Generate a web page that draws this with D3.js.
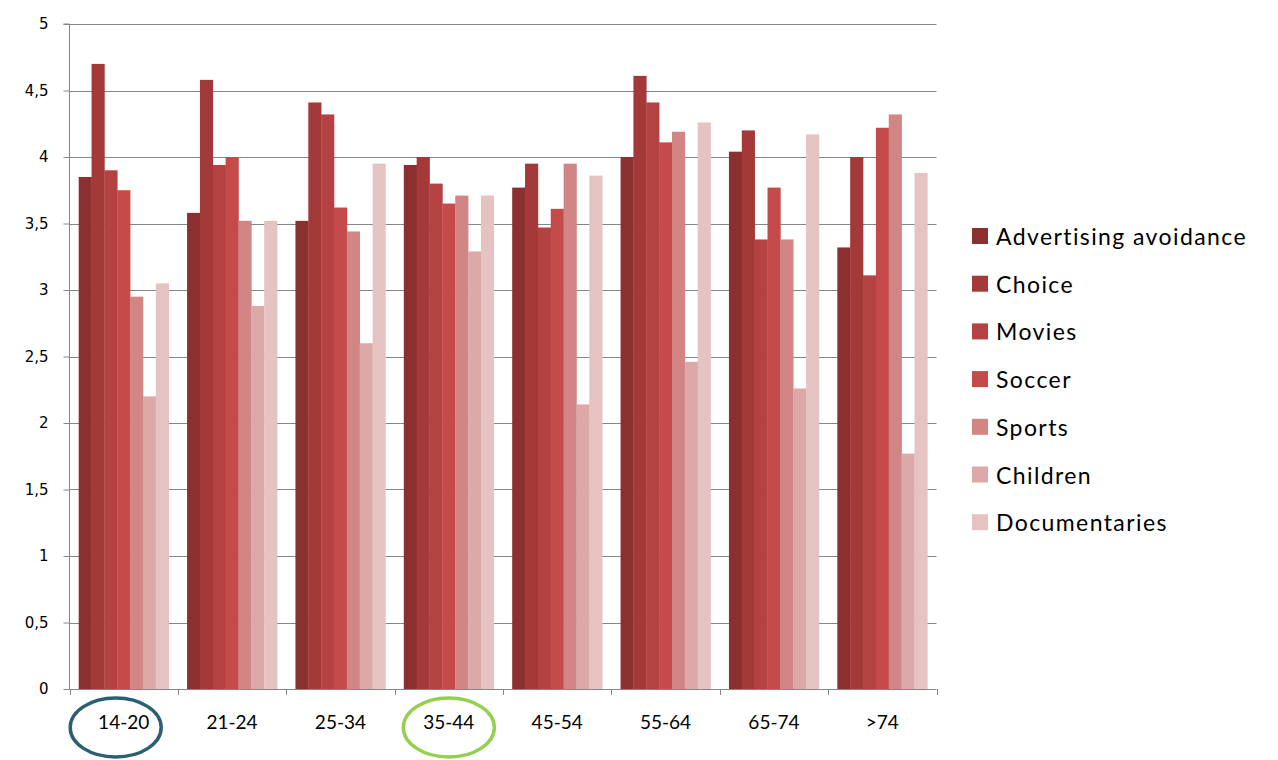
<!DOCTYPE html>
<html><head><meta charset="utf-8">
<script src="https://cdn.jsdelivr.net/npm/d3@7"></script>
<style>body{margin:0;background:#fff}svg{display:block}</style>
</head><body>
<svg id="c" width="1278" height="760"></svg>
<script>
const categories = ["14-20","21-24","25-34","35-44","45-54","55-64","65-74",">74"];
const seriesNames = ["Advertising avoidance","Choice","Movies","Soccer","Sports","Children","Documentaries"];
const seriesColors = ["#8C2F31","#A33939","#B54242","#C44B4A","#D18584","#DCA8A8","#E5C3C3"];
const advertisingAvoidance = [3.85,3.58,3.52,3.94,3.77,4.00,4.04,3.32];
const choice              = [4.70,4.58,4.41,4.00,3.95,4.61,4.20,4.00];
const movies              = [3.90,3.94,4.32,3.80,3.47,4.41,3.38,3.11];
const soccer              = [3.75,4.00,3.62,3.65,3.61,4.11,3.77,4.22];
const sports              = [2.95,3.52,3.44,3.71,3.95,4.19,3.38,4.32];
const children            = [2.20,2.88,2.60,3.29,2.14,2.46,2.26,1.77];
const documentaries       = [3.05,3.52,3.95,3.71,3.86,4.26,4.17,3.88];
const yTicks = [0,0.5,1,1.5,2,2.5,3,3.5,4,4.5,5];
const yTickLabels = ["0","0,5","1","1,5","2","2,5","3","3,5","4","4,5","5"];
const highlighted = [{cat:"14-20", color:"#2A6072", dx:-8},{cat:"35-44", color:"#92D050", dx:0}];

const series = [advertisingAvoidance,choice,movies,soccer,sports,children,documentaries];
const svg = d3.select("#c");
const L=69.5, R=936.5, T=24, B=689;
const x0 = d3.scaleBand().domain(categories).range([L,R]).padding(0);
const x1 = d3.scaleBand().domain(d3.range(series.length)).range([0,x0.bandwidth()]).paddingInner(0).paddingOuter(0.715);
const y = d3.scaleLinear().domain([0,5]).range([B,T]);

// gridlines
svg.append("g").selectAll("line").data(yTicks.filter(d=>d>0)).join("line")
  .attr("x1",L).attr("x2",R).attr("y1",d=>Math.round(y(d))+0.5).attr("y2",d=>Math.round(y(d))+0.5)
  .attr("stroke","#868686").attr("stroke-width",1);

// bars
const g = svg.append("g");
categories.forEach((c,ci)=>{
  series.forEach((s,si)=>{
    g.append("rect").attr("x",x0(c)+x1(si)).attr("width",x1.bandwidth()+0.3)
     .attr("y",y(s[ci])).attr("height",B-y(s[ci])).attr("fill",seriesColors[si]);
  });
});

// y axis
const yAxis = d3.axisLeft(y).tickValues(yTicks).tickFormat((d,i)=>yTickLabels[i]).tickSize(6).tickPadding(10);
const ya = svg.append("g").attr("transform",`translate(${L},0)`).call(yAxis);
ya.select(".domain").attr("stroke","#868686").attr("d",`M-6,${T}H0V${B}`);
ya.selectAll(".tick line").attr("stroke","#868686");
ya.selectAll(".tick text").attr("font-family","DejaVu Sans").attr("font-size","15px").attr("fill","#000")
  .attr("x",-21).attr("dy","0.3em").attr("text-anchor","end");

// x axis
const xa = svg.append("g").attr("transform",`translate(0,${B})`);
xa.append("line").attr("x1",L).attr("x2",R).attr("y1",0.5).attr("y2",0.5).attr("stroke","#868686");
xa.selectAll("line.t").data(d3.range(categories.length+1)).join("line").attr("class","t")
  .attr("x1",i=>Math.round(L+i*x0.step())+0.5).attr("x2",i=>Math.round(L+i*x0.step())+0.5)
  .attr("y1",0).attr("y2",6).attr("stroke","#868686");
xa.selectAll("text").data(categories).join("text")
  .attr("x",d=>x0(d)+x0.bandwidth()/2).attr("y",40)
  .attr("text-anchor","middle").attr("font-family","Lato").attr("font-size","19px").attr("fill","#000").text(d=>d);

// highlight ellipses
svg.append("g").selectAll("ellipse").data(highlighted).join("ellipse")
  .attr("cx",d=>x0(d.cat)+x0.bandwidth()/2+d.dx).attr("cy",727.5).attr("rx",45.5).attr("ry",29.5)
  .attr("fill","none").attr("stroke",d=>d.color).attr("stroke-width",3.5);

// legend
const lg = svg.append("g").attr("transform","translate(972,228)");
const li = lg.selectAll("g").data(seriesNames).join("g").attr("transform",(d,i)=>`translate(0,${i*47.7})`);
li.append("rect").attr("width",16).attr("height",16).attr("fill",(d,i)=>seriesColors[i]);
li.append("text").attr("x",24).attr("y",17).attr("font-family","Lato").attr("font-size","23px")
  .attr("letter-spacing","1.4px").attr("fill","#000").text(d=>d);
</script>
</body></html>
